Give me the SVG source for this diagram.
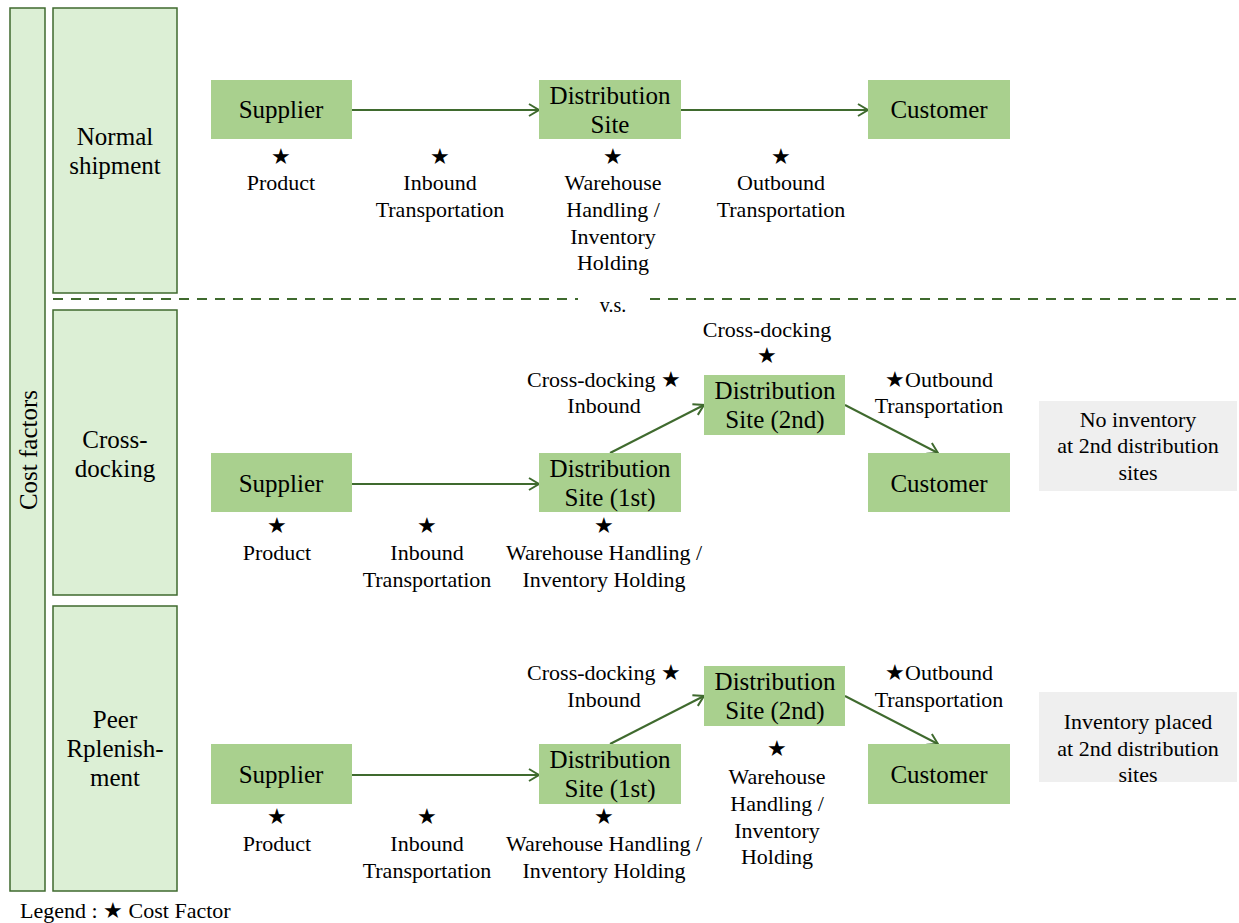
<svg xmlns="http://www.w3.org/2000/svg" width="1239" height="923" viewBox="0 0 1239 923">
<style>
text{font-family:"Liberation Serif","Times New Roman",serif;fill:#000;text-anchor:middle}
.node{fill:#a9d08e}
.n{font-size:25px}
.l{font-size:22px}
.row{fill:#dcefd5;stroke:#3f6a2e;stroke-width:1.5}
.note{fill:#efefef}
.c{stroke:#3f6a2e;stroke-width:2;fill:none;marker-end:url(#ah)}
</style>
<defs>
<marker id="ah" markerUnits="userSpaceOnUse" markerWidth="14" markerHeight="14" refX="11" refY="7" orient="auto">
<path d="M1,1 L11,7 L1,13" fill="none" stroke="#3f6a2e" stroke-width="2"/>
</marker>
</defs>
<rect width="1239" height="923" fill="#fff"/>

<g id="cost-factors">
<rect class="row" x="10" y="8" width="35" height="883"/>
<text class="n" transform="translate(37,450) rotate(-90)">Cost factors</text>
</g>
<g id="row-normal">
<rect class="row" x="53" y="8" width="124" height="285"/>
<text class="n" x="115" y="145">Normal</text>
<text class="n" x="115" y="174">shipment</text>
</g>
<g id="row-cross">
<rect class="row" x="53" y="310" width="124" height="285"/>
<text class="n" x="115" y="448">Cross-</text>
<text class="n" x="115" y="477">docking</text>
</g>
<g id="row-peer">
<rect class="row" x="53" y="606" width="124" height="285"/>
<text class="n" x="115" y="728">Peer</text>
<text class="n" x="115" y="757">Rplenish-</text>
<text class="n" x="115" y="786">ment</text>
</g>

<g id="separator">
<line x1="53" y1="299" x2="578" y2="299" stroke="#3f6a2e" stroke-width="2" stroke-dasharray="10,8"/>
<line x1="650" y1="299" x2="1239" y2="299" stroke="#3f6a2e" stroke-width="2" stroke-dasharray="10,8"/>
<text x="613" y="312" style="font-size:20px">v.s.</text>
</g>

<g id="connectors">
<line class="c" x1="352" y1="110" x2="539" y2="110"/>
<line class="c" x1="681" y1="110" x2="868" y2="110"/>
<line class="c" x1="352" y1="484" x2="539" y2="484"/>
<line class="c" x1="610" y1="453" x2="704" y2="405"/>
<line class="c" x1="845" y1="405" x2="938" y2="453"/>
<line class="c" x1="352" y1="775" x2="539" y2="775"/>
<line class="c" x1="610" y1="744" x2="704" y2="696"/>
<line class="c" x1="845" y1="696" x2="938" y2="744"/>
</g>

<!-- Normal shipment -->
<g id="n-supplier">
<rect class="node" x="211" y="80" width="141" height="59"/>
<text class="n" x="281" y="118">Supplier</text>
</g>
<g id="n-ds">
<rect class="node" x="539" y="80" width="142" height="59"/>
<text class="n" x="610" y="104">Distribution</text>
<text class="n" x="610" y="133">Site</text>
</g>
<g id="n-customer">
<rect class="node" x="868" y="80" width="142" height="59"/>
<text class="n" x="939" y="118">Customer</text>
</g>
<g id="n-labels">
<text class="l" x="281" y="164">★</text>
<text class="l" x="281" y="190">Product</text>
<text class="l" x="440" y="164">★</text>
<text class="l" x="440" y="190">Inbound</text>
<text class="l" x="440" y="217">Transportation</text>
<text class="l" x="613" y="164">★</text>
<text class="l" x="613" y="190">Warehouse</text>
<text class="l" x="613" y="217">Handling /</text>
<text class="l" x="613" y="244">Inventory</text>
<text class="l" x="613" y="270">Holding</text>
<text class="l" x="781" y="164">★</text>
<text class="l" x="781" y="190">Outbound</text>
<text class="l" x="781" y="217">Transportation</text>
</g>

<!-- Cross-docking -->
<g id="c-supplier">
<rect class="node" x="211" y="453" width="141" height="59"/>
<text class="n" x="281" y="492">Supplier</text>
</g>
<g id="c-ds1">
<rect class="node" x="539" y="453" width="142" height="59"/>
<text class="n" x="610" y="477">Distribution</text>
<text class="n" x="610" y="506">Site (1st)</text>
</g>
<g id="c-ds2">
<rect class="node" x="704" y="375" width="141" height="60"/>
<text class="n" x="775" y="399">Distribution</text>
<text class="n" x="775" y="428">Site (2nd)</text>
</g>
<g id="c-customer">
<rect class="node" x="868" y="453" width="142" height="59"/>
<text class="n" x="939" y="492">Customer</text>
</g>
<g id="c-note">
<rect class="note" x="1039" y="401" width="198" height="90"/>
<text class="l" x="1138" y="427">No inventory</text>
<text class="l" x="1138" y="453">at 2nd distribution</text>
<text class="l" x="1138" y="480">sites</text>
</g>
<g id="c-labels">
<text class="l" x="604" y="387">Cross-docking ★</text>
<text class="l" x="604" y="413">Inbound</text>
<text class="l" x="767" y="337">Cross-docking</text>
<text class="l" x="767" y="363">★</text>
<text class="l" x="939" y="387">★Outbound</text>
<text class="l" x="939" y="413">Transportation</text>
<text class="l" x="277" y="533">★</text>
<text class="l" x="277" y="560">Product</text>
<text class="l" x="427" y="533">★</text>
<text class="l" x="427" y="560">Inbound</text>
<text class="l" x="427" y="587">Transportation</text>
<text class="l" x="604" y="533">★</text>
<text class="l" x="604" y="560">Warehouse Handling /</text>
<text class="l" x="604" y="587">Inventory Holding</text>
</g>

<!-- Peer replenishment -->
<g id="p-supplier">
<rect class="node" x="211" y="744" width="141" height="60"/>
<text class="n" x="281" y="783">Supplier</text>
</g>
<g id="p-ds1">
<rect class="node" x="539" y="744" width="142" height="60"/>
<text class="n" x="610" y="768">Distribution</text>
<text class="n" x="610" y="797">Site (1st)</text>
</g>
<g id="p-ds2">
<rect class="node" x="704" y="666" width="141" height="60"/>
<text class="n" x="775" y="690">Distribution</text>
<text class="n" x="775" y="719">Site (2nd)</text>
</g>
<g id="p-customer">
<rect class="node" x="868" y="744" width="142" height="60"/>
<text class="n" x="939" y="783">Customer</text>
</g>
<g id="p-note">
<rect class="note" x="1039" y="692" width="198" height="90"/>
<text class="l" x="1138" y="729">Inventory placed</text>
<text class="l" x="1138" y="756">at 2nd distribution</text>
<text class="l" x="1138" y="782">sites</text>
</g>
<g id="p-labels">
<text class="l" x="604" y="680">Cross-docking ★</text>
<text class="l" x="604" y="707">Inbound</text>
<text class="l" x="939" y="680">★Outbound</text>
<text class="l" x="939" y="707">Transportation</text>
<text class="l" x="777" y="756">★</text>
<text class="l" x="777" y="784">Warehouse</text>
<text class="l" x="777" y="811">Handling /</text>
<text class="l" x="777" y="838">Inventory</text>
<text class="l" x="777" y="864">Holding</text>
<text class="l" x="277" y="824">★</text>
<text class="l" x="277" y="851">Product</text>
<text class="l" x="427" y="824">★</text>
<text class="l" x="427" y="851">Inbound</text>
<text class="l" x="427" y="878">Transportation</text>
<text class="l" x="604" y="824">★</text>
<text class="l" x="604" y="851">Warehouse Handling /</text>
<text class="l" x="604" y="878">Inventory Holding</text>
</g>

<g id="legend">
<text x="20" y="918" style="text-anchor:start;font-size:22px">Legend : ★ Cost Factor</text>
</g>
</svg>
